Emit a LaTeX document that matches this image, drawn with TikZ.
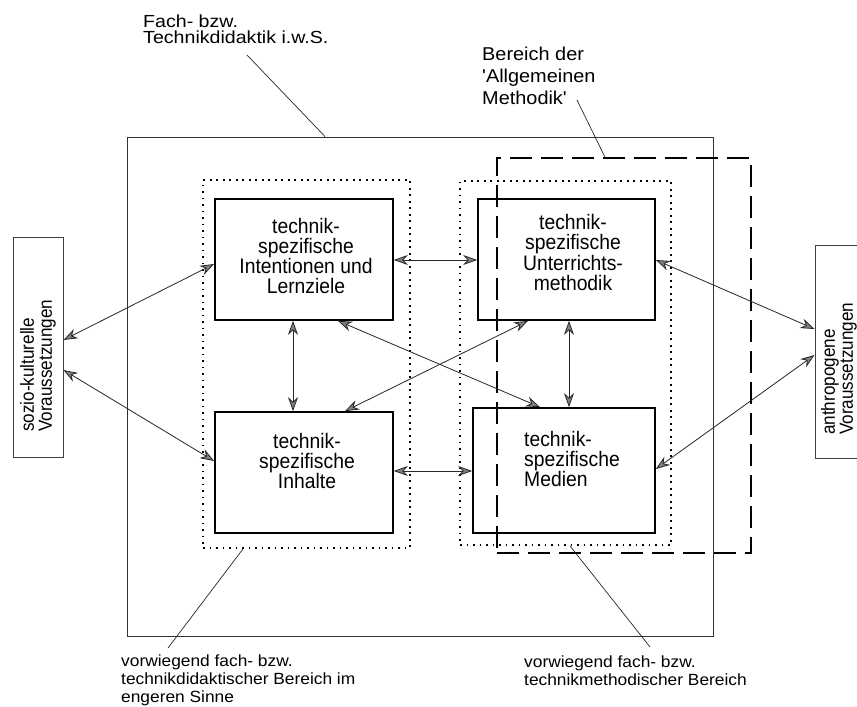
\documentclass[tikz,border=0pt]{standalone}
\usepackage{fontspec}
\setmainfont{Liberation Sans}
\newfontfamily\boxfont[FakeStretch=0.92]{Liberation Sans}
\newfontfamily\labfont[FakeStretch=1.07]{Liberation Sans}
\newfontfamily\widefont[FakeStretch=1.12]{Liberation Sans}
\newfontfamily\sidefont[FakeStretch=0.9]{Liberation Sans}
\usetikzlibrary{arrows.meta,calc}

\begin{document}
\begin{tikzpicture}[x=1pt,y=-1pt,
  outerbox/.style={draw=black!80, line width=0.9pt, inner sep=0pt},
  dotbox/.style={draw=black, line width=1.8pt, dash pattern=on 1.6pt off 4.9pt, inner sep=0pt},
  dashbox/.style={draw=black, line width=1.6pt, dash pattern=on 22pt off 9pt, inner sep=0pt},
  topicbox/.style={draw=black, line width=1.7pt, inner sep=0pt},
  sidebox/.style={draw=black!75, line width=0.9pt, inner sep=0pt},
  topictext/.style={font={\boxfont\fontsize{21}{20.3}\selectfont}, align=center, inner sep=0pt},
  sidetext/.style={font={\sidefont\fontsize{19}{18}\selectfont}, align=left, inner sep=0pt, rotate=90, anchor=north west},
  note/.style={align=left, inner sep=0pt, anchor=north west},
  leader/.style={draw=black!85, line width=0.7pt},
  tip/.tip={Stealth[length=14pt, width=10pt, inset=4.5pt, fill=black!50]},
  link/.style={draw=black!85, line width=0.8pt, tip-tip}
]
\useasboundingbox (0,0) rectangle (857,707);

% regions
\node[outerbox, minimum width=586pt, minimum height=499pt] (outer) at (420,386.5) {};
\node[dotbox, minimum width=207pt, minimum height=368pt] (ldot) at (306.5,364) {};
\node[dotbox, minimum width=211pt, minimum height=364pt] (rdot) at (565.5,363) {};
\node[dashbox, minimum width=254pt, minimum height=395pt] (dash) at (624,355.5) {};

% four topic boxes
\node[topicbox, minimum width=178pt, minimum height=121pt] (tl) at (304,259.5) {};
\node[topicbox, minimum width=177pt, minimum height=121pt] (tr) at (566.5,259.5) {};
\node[topicbox, minimum width=178pt, minimum height=121pt] (bl) at (304,472.5) {};
\node[topicbox, minimum width=182pt, minimum height=125pt] (br) at (564,470.5) {};

\node[topictext] (tl-t) at (306,256) {technik-\\spezifische\\Intentionen und\\Lernziele};
\node[topictext] (tr-t) at (573,252.5) {technik-\\spezifische\\Unterrichts-\\methodik};
\node[topictext] (bl-t) at (307,461) {technik-\\spezifische\\Inhalte};
\node[topictext, align=left, anchor=west] (br-t) at (524,459) {technik-\\spezifische\\Medien};

% side boxes
\node[sidebox, minimum width=50pt, minimum height=220pt] (sl) at (38,347) {};
\node[sidebox, minimum width=50pt, minimum height=213pt] (sr) at (840,351.5) {};
\node[sidetext] (sl-t) at (20,432) {sozio-kulturelle\\Voraussetzungen};
\node[sidetext] (sr-t) at (821,435) {anthropogene\\Voraussetzungen};

% connections
\draw[link] (sl.east |- 0,340) -- (tl.west |- 0,264);
\draw[link] (sl.east |- 0,370) -- (bl.west |- 0,461);
\draw[link] (293,0 |- tl.south) -- (293,0 |- bl.north);
\draw[link] (tl.east |- 0,260) -- (tr.west |- 0,260);
\draw[link] (bl.east |- 0,471) -- (br.west |- 0,471);
\draw[link] (569,0 |- tr.south) -- (569,0 |- br.north);
\draw[link] (338,0 |- tl.south) -- (540,0 |- br.north);
\draw[link] (528,0 |- tr.south) -- (345,0 |- bl.north);
\draw[link] (tr.east |- 0,260) -- (sr.west |- 0,329);
\draw[link] (br.east |- 0,469) -- (sr.west |- 0,355);

% labels with leader lines
\node[note, font={\widefont\fontsize{17.5}{16}\selectfont}] (lab-outer) at (143,15)
  {Fach- bzw.\\Technikdidaktik i.w.S.};
\node[note, font={\labfont\fontsize{18.6}{21.7}\selectfont}] (lab-dash) at (482,47)
  {Bereich der\\'Allgemeinen\\Methodik'};
\node[note, font={\labfont\fontsize{16.2}{17.6}\selectfont}] (lab-ldot) at (121,655)
  {vorwiegend fach- bzw.\\technikdidaktischer Bereich im\\engeren Sinne};
\node[note, font={\labfont\fontsize{16.2}{17.6}\selectfont}] (lab-rdot) at (524,656)
  {vorwiegend fach- bzw.\\technikmethodischer Bereich};

\coordinate (c-outer) at (247,55);
\coordinate (c-dash) at (577,100);
\coordinate (c-ldot) at (168,648);
\coordinate (c-rdot) at (650,647);
\draw[leader] (c-outer) -- (325,0 |- outer.north);
\draw[leader] (c-dash) -- (605,0 |- dash.north);
\draw[leader] (c-ldot) -- (243,0 |- ldot.south);
\draw[leader] (c-rdot) -- (570,0 |- rdot.south);
\end{tikzpicture}
\end{document}
